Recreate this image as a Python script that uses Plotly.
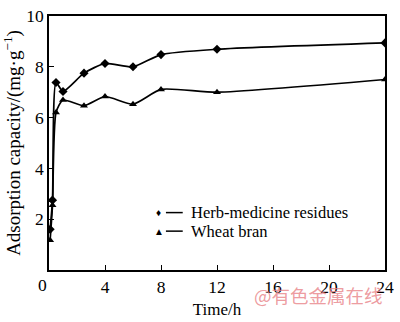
import plotly.graph_objects as go

# Adsorption kinetics of two biosorbents
time_h = [0.08, 0.25, 0.5, 1, 2.5, 4, 6, 8, 12, 24]
herb_residues = [1.6, 2.75, 7.38, 7.03, 7.75, 8.13, 8.0, 8.48, 8.69, 8.94]
wheat_bran = [1.17, 2.55, 6.2, 6.69, 6.47, 6.83, 6.53, 7.11, 7.0, 7.5]

series_names = ["Herb-medicine residues", "Wheat bran"]
series_symbols = ["diamond", "triangle-up"]
legend_glyphs = ["♦", "▲"]

x_ticks = [0, 4, 8, 12, 16, 20, 24]
y_ticks = [0, 2, 4, 6, 8, 10]

FONT = "Liberation Serif, Times New Roman, serif"
TICK_SIZE = 17.5

fig = go.Figure()
for name, ys, sym in zip(series_names, [herb_residues, wheat_bran], series_symbols):
    fig.add_trace(go.Scatter(
        x=time_h, y=ys, name=name, mode="lines+markers",
        line=dict(color="black", width=1.7, shape="spline", smoothing=0.6),
        marker=dict(symbol=sym, size=7, color="black"),
        showlegend=False,
    ))

# hand-drawn legend: glyph, short rule, label
legend_y = [0.226, 0.153]
for glyph, name, ly in zip(legend_glyphs, series_names, legend_y):
    fig.add_annotation(x=0.326, y=ly, xref="paper", yref="paper", text=glyph,
                       showarrow=False, font=dict(family=FONT, size=10, color="black"),
                       xanchor="center", yanchor="middle")
    fig.add_shape(type="line", xref="paper", yref="paper",
                  x0=0.348, x1=0.398, y0=ly, y1=ly,
                  line=dict(color="black", width=1.5))
    fig.add_annotation(x=0.416, y=ly, xref="paper", yref="paper", text=name,
                       showarrow=False, font=dict(family=FONT, size=16.5, color="black"),
                       xanchor="left", yanchor="middle")

# shared origin label
fig.add_annotation(x=-0.018, y=-0.01, xref="paper", yref="paper", text="0",
                   showarrow=False, font=dict(family=FONT, size=TICK_SIZE, color="black"),
                   xanchor="center", yanchor="top")

# source mark
fig.add_annotation(x=1.0, y=-0.1, xref="paper", yref="paper", text="@有色金属在线",
                   showarrow=False, font=dict(family="Noto Sans CJK SC", size=18.5,
                                              color="rgba(232,130,135,0.8)"),
                   xanchor="right", yanchor="middle")

fig.update_xaxes(
    range=[0, 24], tickvals=x_ticks,
    ticktext=["" if v == 0 else str(v) for v in x_ticks],
    ticks="inside", ticklen=5, tickwidth=1, tickcolor="black",
    showline=True, linecolor="black", linewidth=1.5, mirror=True,
    showgrid=False, zeroline=False, ticklabeloverflow="allow",
    tickfont=dict(family=FONT, size=TICK_SIZE, color="black"),
    title=dict(text="Time/h", font=dict(family=FONT, size=17, color="black"), standoff=7),
)
fig.update_yaxes(
    range=[0, 10], tickvals=y_ticks,
    ticktext=["" if v == 0 else str(v) for v in y_ticks],
    ticks="inside", ticklen=5, tickwidth=1, tickcolor="black",
    showline=True, linecolor="black", linewidth=1.5, mirror=True,
    showgrid=False, zeroline=False, ticklabeloverflow="allow",
    tickfont=dict(family=FONT, size=TICK_SIZE, color="black"),
    title=dict(text="Adsorption capacity/(mg·g<sup>−1</sup>)",
               font=dict(family=FONT, size=19, color="black"), standoff=4),
)

fig.update_layout(
    width=400, height=322,
    margin=dict(l=49, r=9, t=6, b=39),
    paper_bgcolor="white", plot_bgcolor="white",
)

fig.write_html("out.html")
